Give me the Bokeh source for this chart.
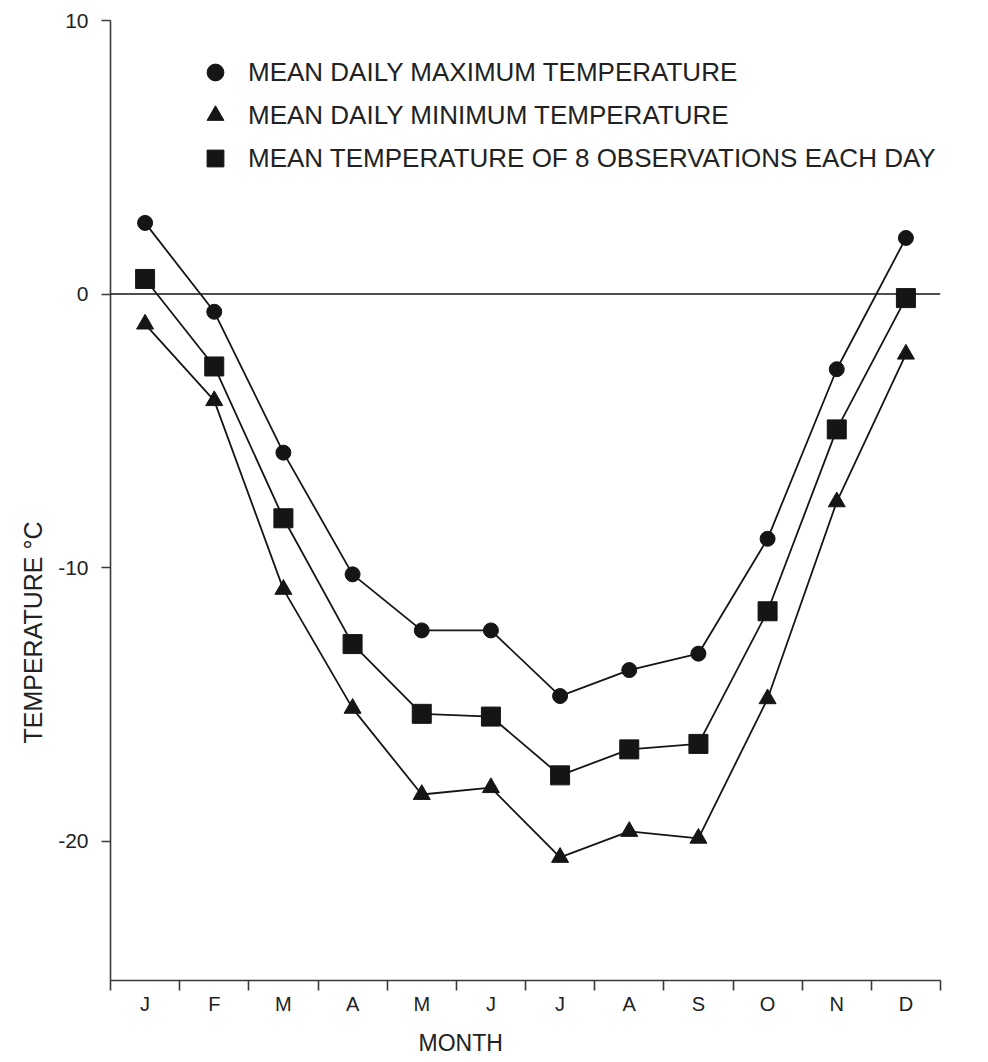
import math
from bokeh.plotting import figure
from bokeh.models import (FixedTicker, Legend, LegendItem, Span, Title, ColumnDataSource)
from bokeh.embed import file_html
from bokeh.resources import INLINE

months = ["J", "F", "M", "A", "M", "J", "J", "A", "S", "O", "N", "D"]
t_max = [2.6, -0.65, -5.8, -10.25, -12.3, -12.3, -14.7, -13.75, -13.15, -8.95, -2.75, 2.05]
t_min = [-1.1, -3.9, -10.8, -15.15, -18.3, -18.05, -20.6, -19.65, -19.9, -14.8, -7.6, -2.2]
t_mean = [0.55, -2.65, -8.2, -12.8, -15.35, -15.45, -17.6, -16.65, -16.45, -11.6, -4.95, -0.15]
labels = ["MEAN DAILY MAXIMUM TEMPERATURE",
          "MEAN DAILY MINIMUM TEMPERATURE",
          "MEAN TEMPERATURE OF 8 OBSERVATIONS EACH DAY"]
y_ticks = [-20, -10, 0, 10]

x = [i + 0.5 for i in range(len(months))]
src = ColumnDataSource(dict(x=x, tmax=t_max, tmin=t_min, tmean=t_mean))

INK = "#151515"
AX = "#3a3a3a"
TXT = "#222222"
FONT = "Liberation Sans"

p = figure(frame_width=830, frame_height=960,
           min_border_left=110, min_border_right=40,
           min_border_top=20, min_border_bottom=80,
           x_range=(0, 12), y_range=(-25.1, 10),
           output_backend="svg", toolbar_location=None, tools="")
p.xgrid.visible = False
p.ygrid.visible = False
p.outline_line_color = None
p.background_fill_color = "white"

# zero line
p.add_layout(Span(location=0, dimension="width", line_color=INK, line_width=1.6))

# series
p.line("x", "tmax", source=src, line_color=INK, line_width=1.8)
p.line("x", "tmin", source=src, line_color=INK, line_width=1.8)
p.line("x", "tmean", source=src, line_color=INK, line_width=1.8)
r1 = p.scatter("x", "tmax", source=src, marker="circle", size=15, fill_color=INK, line_color=INK)
r2 = p.scatter("x", "tmin", source=src, marker="triangle", size=17, fill_color=INK, line_color=INK)
r3 = p.scatter("x", "tmean", source=src, marker="square", size=19, fill_color=INK, line_color=INK)

# x axis
xa = p.xaxis[0]
xa.ticker = FixedTicker(ticks=x, minor_ticks=list(range(len(months) + 1)))
xa.major_label_overrides = {xv: m for xv, m in zip(x, months)}
xa.major_tick_out = 0
xa.major_tick_in = 0
xa.minor_tick_out = 10
xa.minor_tick_in = 0
xa.minor_tick_line_color = AX
xa.minor_tick_line_width = 1.6
xa.axis_line_color = AX
xa.axis_line_width = 1.6
xa.major_label_standoff = 2
xa.major_label_text_font = FONT
xa.major_label_text_font_size = "20px"
xa.major_label_text_color = TXT

# y axis
ya = p.yaxis[0]
ya.ticker = FixedTicker(ticks=y_ticks, minor_ticks=[])
ya.major_label_overrides = {t: str(t) for t in y_ticks}
ya.major_tick_out = 9
ya.major_tick_in = 0
ya.major_tick_line_color = AX
ya.major_tick_line_width = 1.6
ya.axis_line_color = AX
ya.axis_line_width = 1.6
ya.major_label_standoff = 13
ya.major_label_text_font = FONT
ya.major_label_text_font_size = "21px"
ya.major_label_text_color = TXT

# axis titles as side titles (positioned along the frame with offset)
p.add_layout(Title(text="TEMPERATURE \u00b0C", align="left", offset=237, standoff=18,
                   text_font=FONT, text_font_size="25px", text_font_style="normal",
                   text_color=TXT), "left")
p.add_layout(Title(text="MONTH", align="left", offset=308, standoff=20,
                   text_font=FONT, text_font_size="23px", text_font_style="normal",
                   text_color=TXT), "below")

legend = Legend(items=[LegendItem(label=labels[0], renderers=[r1]),
                       LegendItem(label=labels[1], renderers=[r2]),
                       LegendItem(label=labels[2], renderers=[r3])],
                location=(84, 801), orientation="vertical",
                glyph_width=42, glyph_height=42, label_height=42, spacing=1,
                padding=0, margin=0, label_standoff=12,
                border_line_alpha=0, background_fill_alpha=0,
                label_text_font=FONT, label_text_font_size="26px",
                label_text_color=TXT)
p.add_layout(legend)

open("out.html", "w").write(file_html(p, INLINE))
